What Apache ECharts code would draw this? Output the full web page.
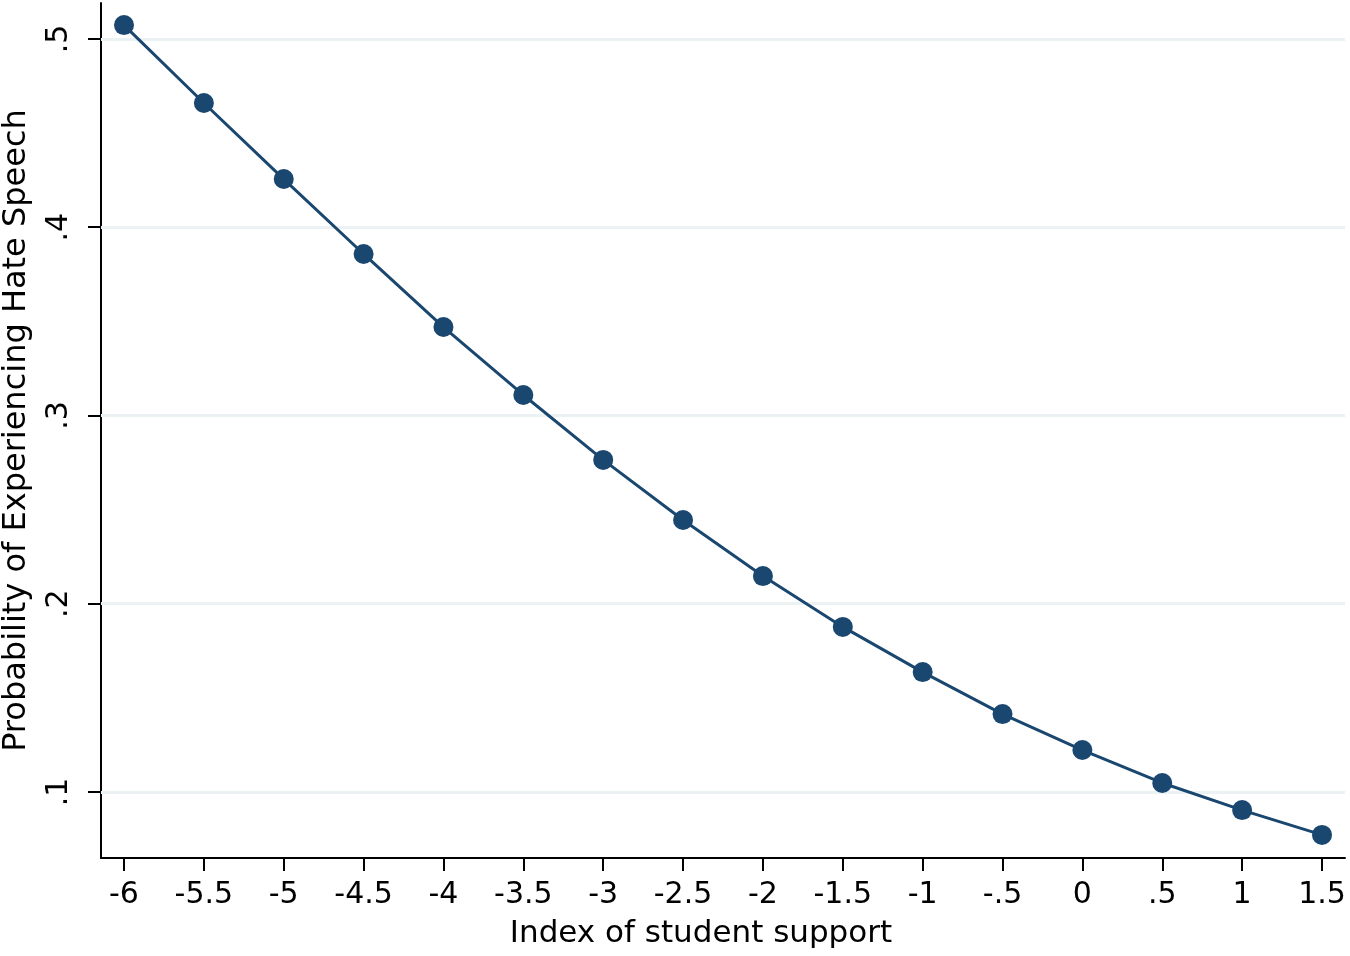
<!DOCTYPE html>
<html>
<head>
<meta charset="utf-8">
<script src="https://cdn.jsdelivr.net/npm/echarts@6/dist/echarts.min.js"></script>
<style>
html,body{margin:0;padding:0;background:#fff;}
#chart{width:1350px;height:956px;}
</style>
</head>
<body>
<div id="chart"></div>
<script>
const xValues = [-6, -5.5, -5, -4.5, -4, -3.5, -3, -2.5, -2, -1.5, -1, -0.5, 0, 0.5, 1, 1.5];
const probValues = [0.5074, 0.466, 0.4256, 0.3858, 0.347, 0.3109, 0.2764, 0.2445, 0.2147, 0.1877, 0.1637, 0.1414, 0.1223, 0.1048, 0.0904, 0.0772];
const xTicks = [-6, -5.5, -5, -4.5, -4, -3.5, -3, -2.5, -2, -1.5, -1, -0.5, 0, 0.5, 1, 1.5];
const yTicks = [0.1, 0.2, 0.3, 0.4, 0.5];
const xTitle = 'Index of student support';
const yTitle = 'Probability of Experiencing Hate Speech';

function fmt(v) {
  let s = String(Math.round(v * 100) / 100);
  s = s.replace(/^0\./, '.').replace(/^-0\./, '-.');
  return s;
}

const chart = echarts.init(document.getElementById('chart'));
const font = 'DejaVu Sans, Liberation Sans, Arial, sans-serif';
chart.setOption({
  animation: false,
  backgroundColor: '#ffffff',
  grid: { left: 101, right: 5, top: 3, bottom: 98, containLabel: false, outerBoundsMode: 'none' },
  xAxis: {
    type: 'value',
    min: -6.144,
    max: 1.644,
    name: xTitle,
    nameLocation: 'middle',
    nameGap: 60,
    nameTextStyle: { fontFamily: font, fontSize: 31, color: '#000', padding: [0, 44, 0, 0] },
    axisLine: { show: true, onZero: false, lineStyle: { color: '#000', width: 2 } },
    axisTick: { show: true, length: 13, customValues: xTicks, lineStyle: { color: '#000', width: 2 } },
    axisLabel: { customValues: xTicks, formatter: fmt, fontFamily: font, fontSize: 30, color: '#000', margin: 22 },
    splitLine: { show: false }
  },
  yAxis: {
    type: 'value',
    min: 0.06494,
    max: 0.51912,
    name: yTitle,
    nameLocation: 'middle',
    nameRotate: 90,
    nameGap: 68,
    nameTextStyle: { fontFamily: font, fontSize: 32, color: '#000' },
    axisLine: { show: true, onZero: false, lineStyle: { color: '#000', width: 2 } },
    axisTick: { show: true, length: 13, customValues: yTicks, lineStyle: { color: '#000', width: 2 } },
    axisLabel: { customValues: yTicks, formatter: fmt, rotate: 90, fontFamily: font, fontSize: 30, color: '#000', margin: 27 },
    splitLine: { show: false }
  },
  series: [
    {
      type: 'line',
      data: [],
      markLine: {
        silent: true,
        symbol: 'none',
        label: { show: false },
        lineStyle: { color: '#eaf2f3', width: 3, type: 'solid' },
        data: yTicks.map(v => ({ yAxis: v }))
      }
    },
    {
      type: 'line',
      data: xValues.map((x, i) => [x, probValues[i]]),
      symbol: 'circle',
      symbolSize: 20,
      itemStyle: { color: '#1a476f' },
      lineStyle: { color: '#1a476f', width: 3 },
      z: 5
    }
  ]
});
</script>
</body>
</html>
